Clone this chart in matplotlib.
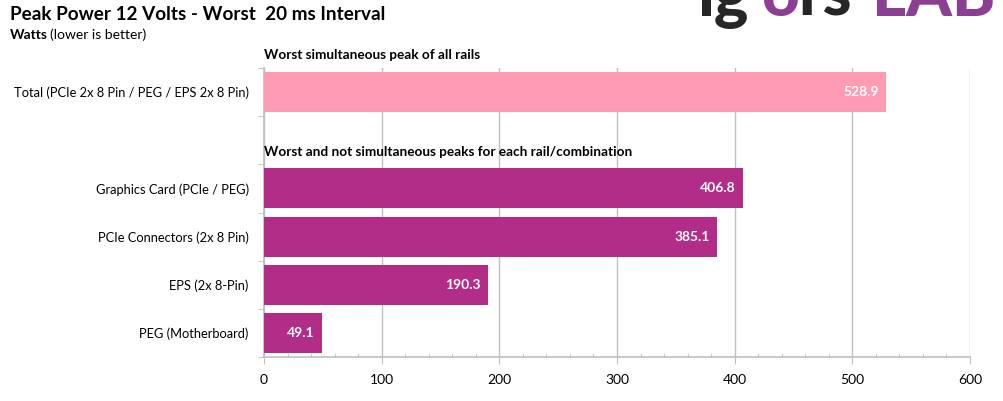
import matplotlib.pyplot as plt
from matplotlib.ticker import MultipleLocator

# data
labels = [
    "Total (PCIe 2x 8 Pin / PEG / EPS 2x 8 Pin)",
    "",
    "Graphics Card (PCIe / PEG)",
    "PCIe Connectors (2x 8 Pin)",
    "EPS (2x 8-Pin)",
    "PEG (Motherboard)",
]
values = [528.9, None, 406.8, 385.1, 190.3, 49.1]
colors = ["#FF9BB3", None, "#B22D87", "#B22D87", "#B22D87", "#B22D87"]
x_ticks = [0, 100, 200, 300, 400, 500, 600]

plt.rcParams["font.family"] = ["Lato", "DejaVu Sans"]
grid_col = "#BFBFBF"

fig = plt.figure(figsize=(10.04, 4.01), dpi=100)
ax = fig.add_axes([264 / 1004, 1 - 357 / 401, 706 / 1004, 289 / 401])

pos = list(range(len(labels)))
for p, v, c in zip(pos, values, colors):
    if v is None:
        continue
    ax.barh(p, v, height=0.83, color=c, zorder=3)
    ax.text(v - 6, p, f"{v:.1f}", ha="right", va="center", color="white",
            fontsize=10, fontweight="bold", zorder=4)

ax.set_ylim(len(labels) - 0.5, -0.5)
ax.set_xlim(0, 600)
ax.set_xticks(x_ticks)
ax.xaxis.set_minor_locator(MultipleLocator(20))
ax.set_yticks(pos)
ax.set_yticklabels(labels, fontsize=9.3)
ax.set_yticks([p + 0.5 for p in [-1] + pos], minor=True)
ax.tick_params(axis="y", which="major", length=0, pad=11)
ax.tick_params(axis="y", which="minor", length=4, color=grid_col, direction="out")
ax.tick_params(axis="x", which="major", length=5, color=grid_col, labelsize=10, pad=7)
ax.tick_params(axis="x", which="minor", length=3, color=grid_col, direction="in")

ax.grid(axis="x", color=grid_col, linewidth=1, zorder=0)
for s in ["top", "right"]:
    ax.spines[s].set_visible(False)
for s in ["left", "bottom"]:
    ax.spines[s].set_color(grid_col)
    ax.spines[s].set_linewidth(1.2)

ax.text(0, -0.78, "Worst simultaneous peak of all rails", fontsize=9.8,
        fontweight="bold", va="center", ha="left")
ax.text(0, 1.25, "Worst and not simultaneous peaks for each rail/combination",
        fontsize=9.8, fontweight="bold", va="center", ha="left")

fig.text(10 / 1004, 1 - 15 / 401, "Peak Power 12 Volts - Worst  20 ms Interval",
         fontsize=13.6, fontweight="bold", va="center")
fig.text(10 / 1004, 1 - 35 / 401, "Watts", fontsize=10, fontweight="bold", va="center")
fig.text(50 / 1004, 1 - 35 / 401, "(lower is better)", fontsize=10, va="center")

# logo, cut by the top edge
logo_parts = [("ig", 697, "#262626"), ("o", 762, "#8B3F93"), ("rs", 798, "#262626"),
              ("LAB", 872, "#8B3F93")]
for txt, x, col in logo_parts:
    fig.text(x / 1004, 1 - 16 / 401, txt, fontsize=47, fontweight="black",
             color=col, va="baseline", ha="left")

fig.savefig("out.png", dpi=100)
